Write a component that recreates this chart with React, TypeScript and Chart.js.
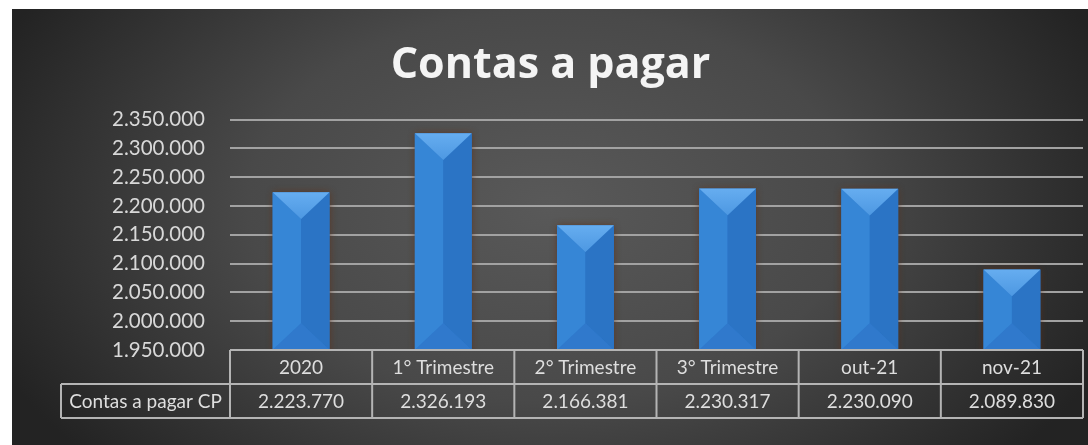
import React, { useEffect, useRef } from "react";
import { Chart, registerables } from "chart.js";

Chart.register(...registerables);

const titleText = "Contas a pagar";
const seriesLabel = "Contas a pagar CP";
const categories = ["2020", "1° Trimestre", "2° Trimestre", "3° Trimestre", "out-21", "nov-21"];
const values = [2223770, 2326193, 2166381, 2230317, 2230090, 2089830];
const yMin = 1950000;
const yMax = 2350000;
const yStep = 50000;

const fmt = (v: number) => String(Math.round(v)).replace(/\B(?=(\d{3})+(?!\d))/g, ".");

const FONT = "Lato, 'Open Sans', sans-serif";
const TITLE_FONT = "'Open Sans', Lato, sans-serif";

const bgPlugin = {
  id: "bgPlugin",
  beforeDraw(chart: any) {
    const { ctx, width, height } = chart;
    ctx.save();
    ctx.translate(width * 0.5, height * 0.45);
    ctx.scale(1.55, 1);
    const g = ctx.createRadialGradient(0, 0, 0, 0, 0, 390);
    g.addColorStop(0, "#595959");
    g.addColorStop(0.5, "#494949");
    g.addColorStop(1, "#232323");
    ctx.fillStyle = g;
    ctx.fillRect(-width, -height, width * 2, height * 2);
    ctx.restore();
  },
  beforeDatasetsDraw(chart: any) {
    const ctx = chart.ctx;
    ctx.save();
    ctx.shadowColor = "rgba(95,50,25,0.85)";
    ctx.shadowBlur = 7;
    ctx.shadowOffsetX = 0;
    ctx.shadowOffsetY = 0;
  },
  afterDatasetsDraw(chart: any) {
    const ctx = chart.ctx;
    ctx.restore();
    const area = chart.chartArea;
    const meta = chart.getDatasetMeta(0);
    ctx.save();
    ctx.beginPath();
    ctx.rect(area.left, area.top, area.right - area.left, area.bottom - area.top);
    ctx.clip();
    meta.data.forEach((bar: any) => {
      const p = bar.getProps(["x", "y", "base", "width"], true);
      const L = p.x - p.width / 2;
      const R = p.x + p.width / 2;
      const T = Math.max(area.top, Math.min(p.y, p.base));
      const B = Math.min(area.bottom, Math.max(p.y, p.base));
      const cx = p.x;
      const d = Math.min(p.width * 0.47, (B - T) / 2);
      const poly = (pts: number[][], color: any) => {
        ctx.beginPath();
        ctx.moveTo(pts[0][0], pts[0][1]);
        for (let i = 1; i < pts.length; i++) ctx.lineTo(pts[i][0], pts[i][1]);
        ctx.closePath();
        ctx.fillStyle = color;
        ctx.fill();
      };
      poly([[L, T], [cx, T + d], [cx, B - d], [L, B]], "#3686d6");
      poly([[R, T], [cx, T + d], [cx, B - d], [R, B]], "#2b74c5");
      const gt = ctx.createLinearGradient(0, T, 0, T + d);
      gt.addColorStop(0, "#66adf0");
      gt.addColorStop(1, "#4d98e2");
      poly([[L, T], [R, T], [cx, T + d]], gt);
      poly([[L, B], [R, B], [cx, B - d]], "#3079cc");
    });
    ctx.restore();
  },
  afterDraw(chart: any) {
    const { ctx, chartArea } = chart;
    const xs = chart.scales.x;
    const n = categories.length;
    const step = (chartArea.right - chartArea.left) / n;
    const rowH = 34;
    const top = chartArea.bottom;
    const mid = top + rowH;
    const bot = mid + rowH;
    const labelLeft = 49;
    ctx.save();
    ctx.strokeStyle = "#b4b4b4";
    ctx.lineWidth = 2;
    ctx.beginPath();
    ctx.moveTo(chartArea.left, top);
    ctx.lineTo(chartArea.right, top);
    ctx.moveTo(labelLeft, mid);
    ctx.lineTo(chartArea.right, mid);
    ctx.moveTo(labelLeft, bot);
    ctx.lineTo(chartArea.right, bot);
    ctx.moveTo(labelLeft, mid);
    ctx.lineTo(labelLeft, bot);
    for (let i = 0; i <= n; i++) {
      const x = i < n ? xs.getPixelForValue(i) - step / 2 : xs.getPixelForValue(n - 1) + step / 2;
      ctx.moveTo(x, top);
      ctx.lineTo(x, bot);
    }
    ctx.stroke();
    ctx.fillStyle = "#dedede";
    ctx.font = `19px ${FONT}`;
    ctx.textAlign = "center";
    ctx.textBaseline = "middle";
    categories.forEach((c, i) => {
      const x = xs.getPixelForValue(i);
      ctx.fillText(c, x, top + rowH / 2 + 1);
      ctx.fillText(fmt(values[i]), x, mid + rowH / 2 + 1);
    });
    ctx.fillText(seriesLabel, (labelLeft + chartArea.left) / 2, mid + rowH / 2 + 1);
    ctx.restore();
  },
};

export default function App() {
  const ref = useRef<HTMLCanvasElement | null>(null);
  useEffect(() => {
    if (!ref.current) return;
    const chart = new Chart(ref.current, {
      type: "bar",
      data: {
        labels: categories,
        datasets: [
          {
            label: seriesLabel,
            data: values,
            backgroundColor: "#2f7bcc",
            borderWidth: 0,
            barPercentage: 0.4,
            categoryPercentage: 1,
          },
        ],
      },
      options: {
        responsive: false,
        animation: false,
        layout: { padding: { left: 6, right: 5, top: 0, bottom: 95 } },
        plugins: {
          legend: { display: false },
          tooltip: { enabled: false },
          title: {
            display: true,
            text: titleText,
            color: "#f4f4f4",
            font: { family: TITLE_FONT, size: 43, weight: "bold" },
            padding: { top: 31, bottom: 28 },
          },
        },
        scales: {
          x: { display: false },
          y: {
            min: yMin,
            max: yMax,
            border: { display: false },
            grid: { color: "#a2a2a2", lineWidth: 2, drawTicks: false },
            ticks: {
              stepSize: yStep,
              padding: 25,
              color: "#d8d8d8",
              font: { family: FONT, size: 20.5 },
              callback: (v: any) => fmt(Number(v)),
            },
            afterFit: (s: any) => {
              s.width = 212;
            },
          },
        },
      },
      plugins: [bgPlugin],
    });
    return () => chart.destroy();
  }, []);
  return (
    <div style={{ position: "absolute", left: 12, top: 9, width: 1076, height: 436 }}>
      <canvas ref={ref} width={1076} height={436} style={{ display: "block" }} />
    </div>
  );
}
